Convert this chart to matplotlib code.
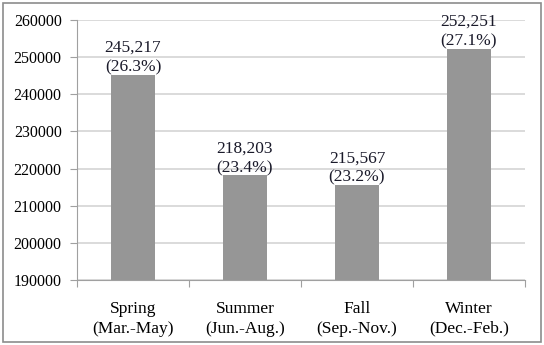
import matplotlib.pyplot as plt
from matplotlib.patches import Rectangle

seasons = ['Spring\n(Mar.-May)', 'Summer\n(Jun.-Aug.)', 'Fall\n(Sep.-Nov.)', 'Winter\n(Dec.-Feb.)']
counts = [245217, 218203, 215567, 252251]
shares = [26.3, 23.4, 23.2, 27.1]
yticks = [190000, 200000, 210000, 220000, 230000, 240000, 250000, 260000]

plt.rcParams['font.family'] = ['Liberation Serif', 'DejaVu Serif']

fig = plt.figure(figsize=(5.44, 3.45), dpi=100)
ax = fig.add_axes([0.1415, 0.188, 0.8235, 0.754])

# outer frame around the whole chart
fig.patches.append(Rectangle((0.006, 0.009), 0.988, 0.982, transform=fig.transFigure,
                             fill=False, edgecolor='#8c8c8c', linewidth=1.2))

x = range(len(counts))
ax.bar(x, counts, width=0.4, color='#969696', zorder=2)

for i, (c, s) in enumerate(zip(counts, shares)):
    ax.text(i, c - 200, '{:,}\n({:.1f}%)'.format(c, s), ha='center', va='bottom',
            fontsize=12.5, color='#1a1a2a', linespacing=1.3, zorder=3)

ax.set_ylim(190000, 260000)
ax.set_xlim(-0.5, 3.5)
ax.set_yticks(yticks)
ax.set_yticklabels([str(v) for v in yticks], fontsize=11.5)
ax.yaxis.grid(True, color='#d4d4d4', linewidth=1.2, zorder=0)
ax.set_axisbelow(True)

ax.set_xticks([-0.5, 0.5, 1.5, 2.5, 3.5])
ax.set_xticklabels([])
ax.set_xticks(list(x), minor=True)
ax.set_xticklabels(seasons, minor=True, fontsize=12.5, linespacing=1.3)
ax.tick_params(axis='x', which='minor', length=0, pad=15)
ax.tick_params(axis='x', which='major', length=5, color='#a0a0a0')
ax.tick_params(axis='y', length=5, color='#a0a0a0', pad=6)

for side in ['top', 'right']:
    ax.spines[side].set_visible(False)
for side in ['left', 'bottom']:
    ax.spines[side].set_color('#a0a0a0')

plt.savefig('out.png', dpi=100)
